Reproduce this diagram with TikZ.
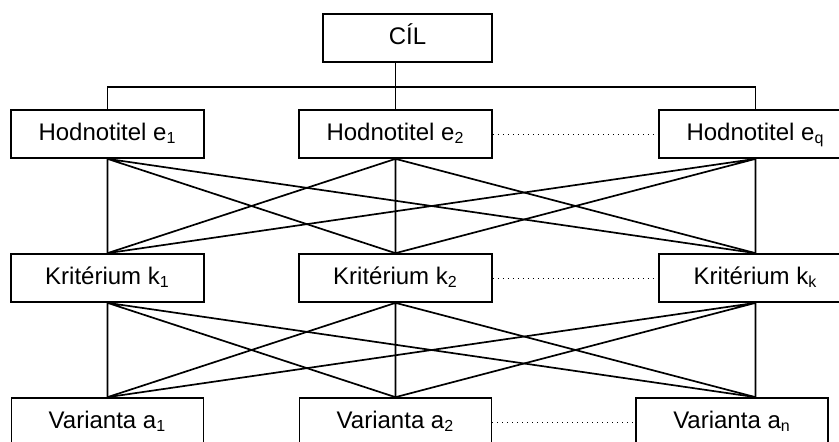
\documentclass[tikz,border=0pt]{standalone}
\usepackage{fontspec}
\setmainfont{Liberation Sans}
\usetikzlibrary{calc}

\begin{document}
\begin{tikzpicture}[x=0.5pt, y=-0.5pt, line width=0.85pt,
		box/.style={draw, fill=white, minimum width=96.5pt, minimum height=24pt, inner sep=0pt,
			text height=8.6pt, text depth=2.6pt, font=\fontsize{12}{14}\selectfont},
		gap/.style={dotted, line width=0.5pt}]
			\useasboundingbox (0,0) rectangle (839,441);
			\clip (0,0) rectangle (839,441);
			\node[box, minimum width=84.5pt] (goal) at (407.5,38) {CÍL};
			\node[box] (e1) at (107.5,134) {Hodnotitel e\textsubscript{1}};
			\node[box] (e2) at (395.5,134) {Hodnotitel e\textsubscript{2}};
			\node[box] (eq) at (755.5,134) {Hodnotitel e\textsubscript{q}};
			\node[box] (k1) at (107.5,278) {Kritérium k\textsubscript{1}};
			\node[box] (k2) at (395.5,278) {Kritérium k\textsubscript{2}};
			\node[box] (kk) at (755.5,278) {Kritérium k\textsubscript{k}};
			\node[box, minimum width=96pt] (a1) at (107.5,422) {Varianta a\textsubscript{1}};
			\node[box, minimum width=96pt] (a2) at (395.5,422) {Varianta a\textsubscript{2}};
			\node[box, minimum width=96pt] (an) at (732,422) {Varianta a\textsubscript{n}};
			\coordinate (bus) at (395.5,87);
			\coordinate (antop) at (kk.south |- an.north);
			% goal and evaluators
			\draw (e2 |- goal.south) -- (e2.north);
			\draw (e1.north) -- (e1 |- bus) -- (eq |- bus) -- (eq.north);
			% evaluators to criteria
			\draw (e1.south) -- (k1.north) (e1.south) -- (k2.north) (e1.south) -- (kk.north);
			\draw (e2.south) -- (k1.north) (e2.south) -- (k2.north) (e2.south) -- (kk.north);
			\draw (eq.south) -- (k1.north) (eq.south) -- (k2.north) (eq.south) -- (kk.north);
			% criteria to variants
			\draw (k1.south) -- (a1.north) (k1.south) -- (a2.north) (k1.south) -- (antop);
			\draw (k2.south) -- (a1.north) (k2.south) -- (a2.north) (k2.south) -- (antop);
			\draw (kk.south) -- (a1.north) (kk.south) -- (a2.north) (kk.south) -- (antop);
			\draw[gap] (e2.east) -- (eq.west);
			\draw[gap] (k2.east) -- (kk.west);
			\draw[gap] (a2.east) -- (an.west);
		\end{tikzpicture}
\end{document}
